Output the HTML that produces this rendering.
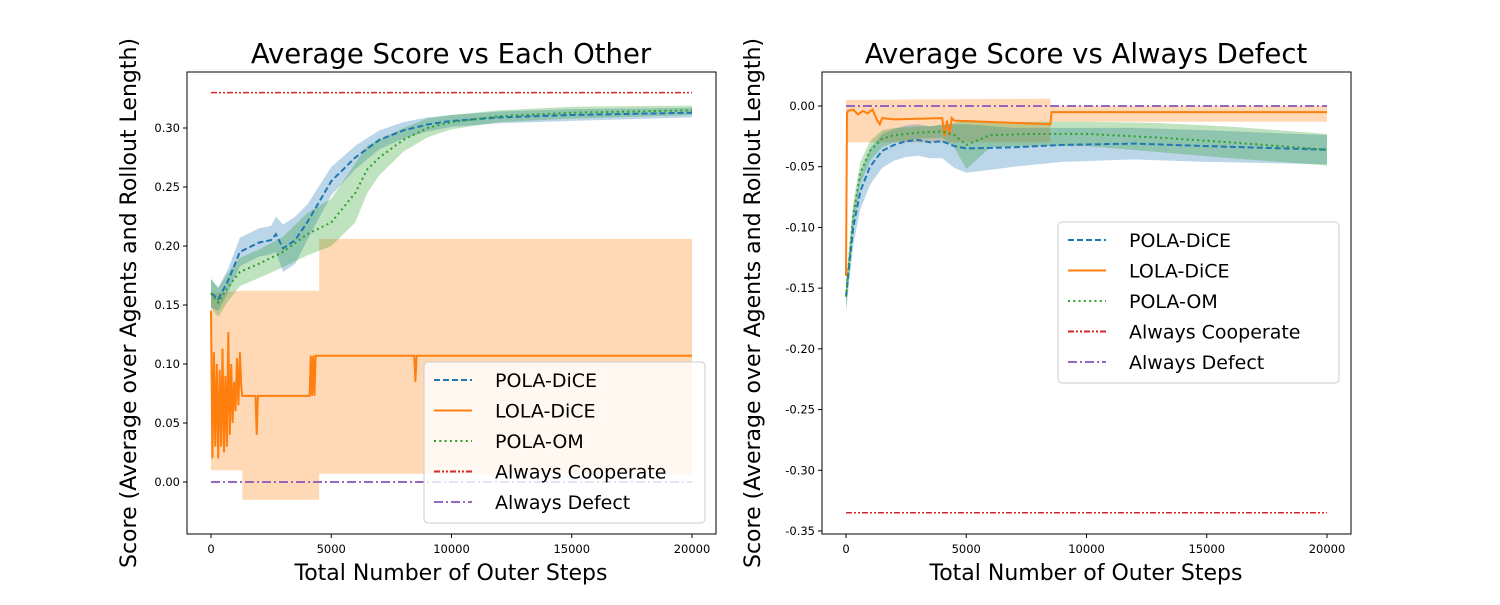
<!DOCTYPE html>
<html><head><meta charset="utf-8"><style>
body{margin:0;background:#fff}
svg{font-family:"DejaVu Sans","Liberation Sans",sans-serif}
</style></head><body>
<svg id="c" width="1500" height="600" viewBox="0 0 1500 600"></svg>
<script>
// ---- data ----
const xTicks=[0,5000,10000,15000,20000];
const leftYTicks=[0,0.05,0.10,0.15,0.20,0.25,0.30];
const rightYTicks=[0,-0.05,-0.10,-0.15,-0.20,-0.25,-0.30,-0.35];
const seriesNames=["POLA-DiCE","LOLA-DiCE","POLA-OM","Always Cooperate","Always Defect"];
// left panel
const L_polaDiceX=[0,300,700,1200,2000,2500,2700,3000,3500,4000,5000,6000,7000,8000,9000,10000,12000,15000,20000];
const L_polaDiceY=[0.160,0.155,0.170,0.195,0.203,0.205,0.210,0.198,0.205,0.220,0.255,0.275,0.290,0.298,0.303,0.306,0.309,0.311,0.313];
const L_polaDiceW=[0.012,0.01,0.01,0.012,0.012,0.012,0.015,0.02,0.02,0.015,0.012,0.01,0.008,0.007,0.006,0.005,0.005,0.005,0.004];
const L_polaOmX=[0,300,700,1200,2000,3000,4000,5000,6000,6500,7000,8000,9000,10000,12000,15000,20000];
const L_polaOmY=[0.160,0.152,0.165,0.178,0.185,0.195,0.210,0.220,0.245,0.265,0.275,0.290,0.300,0.305,0.310,0.313,0.315];
const L_polaOmW=[0.012,0.012,0.012,0.012,0.012,0.013,0.018,0.02,0.025,0.02,0.015,0.01,0.008,0.006,0.005,0.005,0.004];
const L_lolaX=[0,60,120,180,240,300,360,420,480,540,600,660,720,780,840,900,960,1020,1080,1140,1200,1260,1300,1850,1900,1950,4100,4150,4200,4250,4300,4350,4400,8450,8500,8550,20000];
const L_lolaY=[0.145,0.02,0.11,0.03,0.10,0.02,0.095,0.03,0.113,0.025,0.09,0.03,0.127,0.04,0.10,0.05,0.085,0.06,0.105,0.065,0.11,0.08,0.073,0.073,0.04,0.073,0.073,0.107,0.073,0.107,0.073,0.107,0.107,0.107,0.085,0.107,0.107];
const L_lolaBandX=[0,1300,1300,4500,4500,20000];
const L_lolaLo=[0.01,0.01,-0.015,-0.015,0.007,0.007];
const L_lolaHi=[0.16,0.162,0.162,0.162,0.206,0.206];
const L_coop=0.33, L_defect=0;
// right panel
const R_polaDiceX=[0,300,600,1000,1500,2000,2500,3000,3500,4000,4500,5000,7000,9000,12000,15000,20000];
const R_polaDiceY=[-0.157,-0.10,-0.07,-0.05,-0.037,-0.032,-0.029,-0.028,-0.030,-0.029,-0.033,-0.035,-0.034,-0.032,-0.031,-0.033,-0.036];
const R_polaDiceW=[0.012,0.015,0.015,0.015,0.014,0.013,0.013,0.013,0.013,0.014,0.018,0.02,0.016,0.014,0.013,0.013,0.012];
const R_polaOmX=[0,300,600,1000,1500,2000,3000,4000,4500,5000,5500,6000,8000,10000,13000,16000,20000];
const R_polaOmY=[-0.157,-0.09,-0.055,-0.037,-0.027,-0.024,-0.022,-0.021,-0.024,-0.032,-0.028,-0.024,-0.023,-0.023,-0.026,-0.030,-0.036];
const R_polaOmW=[0.01,0.01,0.009,0.008,0.007,0.006,0.005,0.005,0.01,0.02,0.015,0.01,0.01,0.01,0.012,0.013,0.013];
const R_lolaX=[0,40,80,300,500,700,900,1100,1300,1400,1500,2000,4000,4100,4200,4300,4400,4500,8500,8550,20000];
const R_lolaY=[-0.14,-0.006,-0.004,-0.003,-0.007,-0.004,-0.006,-0.003,-0.012,-0.015,-0.010,-0.011,-0.010,-0.025,-0.012,-0.024,-0.010,-0.012,-0.015,-0.005,-0.005];
const R_lolaBandX=[0,8500,8500,20000];
const R_lolaLo=[-0.03,-0.03,-0.013,-0.013];
const R_lolaHi=[0.005,0.006,0.0,0.0];
const R_coop=-0.335, R_defect=0;

const svg=document.getElementById('c');
const NS='http://www.w3.org/2000/svg';
function el(t,a,p){const e=document.createElementNS(NS,t);for(const k in a)e.setAttribute(k,a[k]);(p||svg).appendChild(e);return e;}
const C={blue:'#1f77b4',orange:'#ff7f0e',green:'#2ca02c',red:'#d62728',purple:'#9467bd'};

function panel(o){
  const g=el('g',{});
  
  
  const X=v=>o.x0+(v-0)*(o.x1-o.x0)/20000;
  const Y=v=>o.y0+(v-o.v0)*(o.y1-o.y0)/(o.v1-o.v0);
  const pts=(xs,ys)=>xs.map((x,i)=>X(x).toFixed(1)+','+Y(ys[i]).toFixed(1)).join(' ');
  const band=(xs,ys,w,col,op,nm)=>{
    const up=xs.map((x,i)=>X(x).toFixed(1)+','+Y(ys[i]+w[i]).toFixed(1));
    const lo=xs.map((x,i)=>X(x).toFixed(1)+','+Y(ys[i]-w[i]).toFixed(1)).reverse();
    const p=el('polygon',{points:up.concat(lo).join(' '),fill:col,'fill-opacity':op},g);
    
    
  };
  const bandLH=(xs,lo,hi,col,op,nm)=>{
    const up=xs.map((x,i)=>X(x).toFixed(1)+','+Y(hi[i]).toFixed(1));
    const dn=xs.map((x,i)=>X(x).toFixed(1)+','+Y(lo[i]).toFixed(1)).reverse();
    const p=el('polygon',{points:up.concat(dn).join(' '),fill:col,'fill-opacity':op},g);
    
    
  };
  const line=(xs,ys,col,dash,nm,w)=>{
    const p=el('polyline',{points:pts(xs,ys),fill:'none',stroke:col,'stroke-width':w||2,'stroke-dasharray':dash},g);
    
    
  };
  bandLH(o.lbx,o.llo,o.lhi,C.orange,0.3,'lola-dice-band');
  band(o.pdx,o.pdy,o.pdw,C.blue,0.3,'pola-dice-band');
  band(o.pox,o.poy,o.pow,C.green,0.3,'pola-om-band');
  line([0,20000],[o.coop,o.coop],C.red,'6,2,2,2,2,2','always-cooperate-line',1.5);
  line([0,20000],[o.defect,o.defect],C.purple,'9,3,2,3','always-defect-line',2);
  line(o.lx,o.ly,C.orange,'','lola-dice-line',2);
  line(o.pdx,o.pdy,C.blue,'6,3','pola-dice-line',2);
  line(o.pox,o.poy,C.green,'2,3.3','pola-om-line',2);
  const f=el('rect',{x:o.fx,y:72,width:529,height:462,fill:'none',stroke:'#000','stroke-width':1},g);
  
  
  xTicks.forEach(t=>{
    el('line',{x1:X(t),x2:X(t),y1:534,y2:538,stroke:'#000'},g);
    const tx=el('text',{x:X(t),y:553,'font-size':11.5,'text-anchor':'middle'},g);
    tx.textContent=t;
    
    
  });
  o.yt.forEach(t=>{
    el('line',{x1:o.fx-4,x2:o.fx,y1:Y(t),y2:Y(t),stroke:'#000'},g);
    const tx=el('text',{x:o.fx-7,y:Y(t)+4,'font-size':11.5,'text-anchor':'end'},g);
    tx.textContent=t.toFixed(2);
    
    
  });
  const ti=el('text',{x:o.fx+264,y:63,'font-size':27.5,'text-anchor':'middle'},g);
  ti.textContent=o.title;
  
  
  const xl=el('text',{x:o.fx+264,y:580,'font-size':22,'text-anchor':'middle'},g);
  xl.textContent='Total Number of Outer Steps';
  
  
  const yl=el('text',{x:0,y:0,'font-size':22,'text-anchor':'middle',transform:`translate(${o.ylx},303) rotate(-90)`},g);
  yl.textContent='Score (Average over Agents and Rollout Length)';
  
  
  const lg=el('g',{},g);
  
  
  el('rect',{x:o.lgx,y:o.lgy,width:281,height:161,rx:4,fill:'#fff','fill-opacity':0.8,stroke:'#ccc'},lg);
  const sty=[[C.blue,'6,3'],[C.orange,''],[C.green,'2,3.3'],[C.red,'6,2,2,2,2,2'],[C.purple,'9,3,2,3']];
  seriesNames.forEach((n,i)=>{
    const yy=o.lgy+18+i*30.5;
    const e=el('g',{},lg);
    
    
    el('line',{x1:o.lgx+10,x2:o.lgx+48,y1:yy,y2:yy,stroke:sty[i][0],'stroke-width':2,'stroke-dasharray':sty[i][1]},e);
    const t=el('text',{x:o.lgx+71,y:yy+7,'font-size':19},e);
    t.textContent=n;
  });
}
panel({name:'left-panel',title:'Average Score vs Each Other',fx:187,x0:211,x1:692,y0:482,y1:128,v0:0,v1:0.30,yt:leftYTicks,ylx:136,
  pdx:L_polaDiceX,pdy:L_polaDiceY,pdw:L_polaDiceW,pox:L_polaOmX,poy:L_polaOmY,pow:L_polaOmW,
  lx:L_lolaX,ly:L_lolaY,lbx:L_lolaBandX,llo:L_lolaLo,lhi:L_lolaHi,coop:L_coop,defect:L_defect,lgx:424,lgy:362});
panel({name:'right-panel',title:'Average Score vs Always Defect',fx:822,x0:846,x1:1327,y0:106,y1:531,v0:0,v1:-0.35,yt:rightYTicks,ylx:760,
  pdx:R_polaDiceX,pdy:R_polaDiceY,pdw:R_polaDiceW,pox:R_polaOmX,poy:R_polaOmY,pow:R_polaOmW,
  lx:R_lolaX,ly:R_lolaY,lbx:R_lolaBandX,llo:R_lolaLo,lhi:R_lolaHi,coop:R_coop,defect:R_defect,lgx:1058,lgy:222});
</script>
</body></html>
